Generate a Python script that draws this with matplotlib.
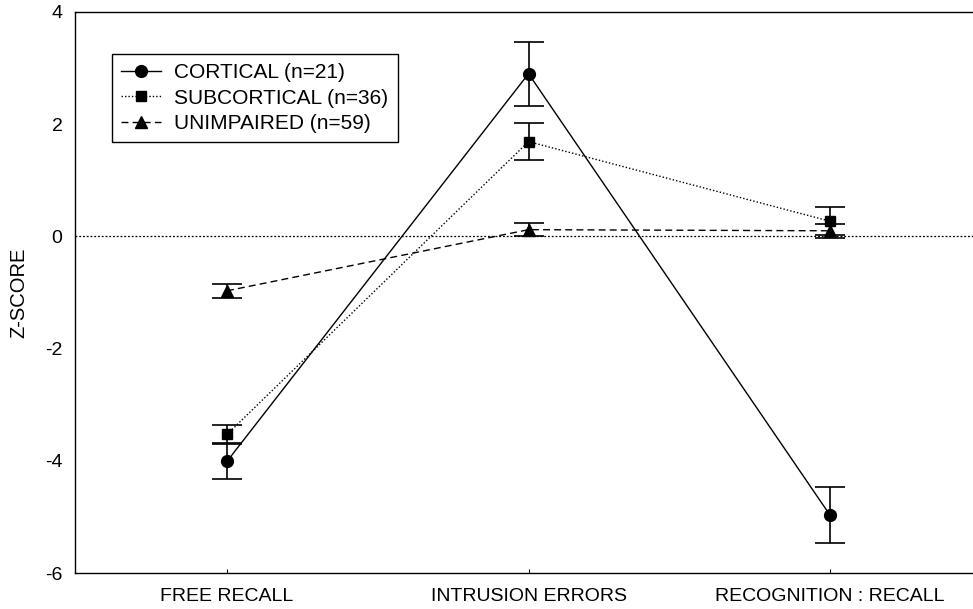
import matplotlib
matplotlib.use("Agg")
import matplotlib.pyplot as plt
from matplotlib.lines import Line2D

plt.rcParams['font.family'] = ['Liberation Sans', 'DejaVu Sans']
plt.rcParams['axes.unicode_minus'] = False

categories = ["FREE RECALL", "INTRUSION ERRORS", "RECOGNITION : RECALL"]

cortical = [-4.01, 2.90, -4.97]
cortical_err = [0.31, 0.57, 0.50]

subcortical = [-3.53, 1.69, 0.27]
subcortical_err = [0.16, 0.33, 0.25]

unimpaired = [-0.97, 0.12, 0.10]
unimpaired_err = [0.12, 0.11, 0.12]

labels = ["CORTICAL (n=21)", "SUBCORTICAL (n=36)", "UNIMPAIRED (n=59)"]


def main():
    fig = plt.figure(figsize=(9.73, 6.09), dpi=100)
    ax = fig.add_axes([75 / 973, 1 - 573 / 609, 898 / 973, 561 / 609])

    x = list(range(len(categories)))

    ax.axhline(0, color='k', linewidth=0.9, linestyle=(0, (1.5, 1.5)))

    series = [
        (cortical, cortical_err, 'o', 8.5, '-'),
        (subcortical, subcortical_err, 's', 7.5, (0, (1, 1.5))),
        (unimpaired, unimpaired_err, '^', 8.5, (0, (5, 3))),
    ]
    handles = []
    for (vals, errs, marker, ms, ls), lab in zip(series, labels):
        ax.errorbar(x, vals, yerr=errs, color='k', marker=marker, markersize=ms,
                    linestyle=ls, linewidth=1.0, elinewidth=1.2, capsize=11,
                    capthick=1.2)
        handles.append(Line2D([], [], color='k', marker=marker, markersize=ms,
                              linestyle=ls, linewidth=1.0, label=lab))

    ax.set_xlim(-0.504, 2.474)
    ax.set_ylim(-6, 4)
    ax.set_xticks(x)
    ax.set_xticklabels(categories, fontsize=14)
    ax.set_yticks([-6, -4, -2, 0, 2, 4])
    ax.tick_params(axis='both', direction='in', length=3, width=0.8, labelsize=14)
    ax.tick_params(axis='y', length=0, pad=9)
    ax.tick_params(axis='x', pad=11)
    ax.set_ylabel("Z-SCORE", fontsize=14.5, labelpad=12)
    ax.spines['right'].set_visible(False)
    for sp in ['left', 'top', 'bottom']:
        ax.spines[sp].set_linewidth(1.0)

    leg = ax.legend(handles=handles, loc='upper left', bbox_to_anchor=(0.041, 0.925),
                    fontsize=15, frameon=True, fancybox=False, edgecolor='k',
                    framealpha=1, handlelength=1.9, borderpad=0.45,
                    labelspacing=0.3, handletextpad=0.65, borderaxespad=0)
    leg.get_frame().set_linewidth(1.0)

    plt.savefig("out.png", dpi=100)
    plt.close()


if __name__ == "__main__":
    main()
